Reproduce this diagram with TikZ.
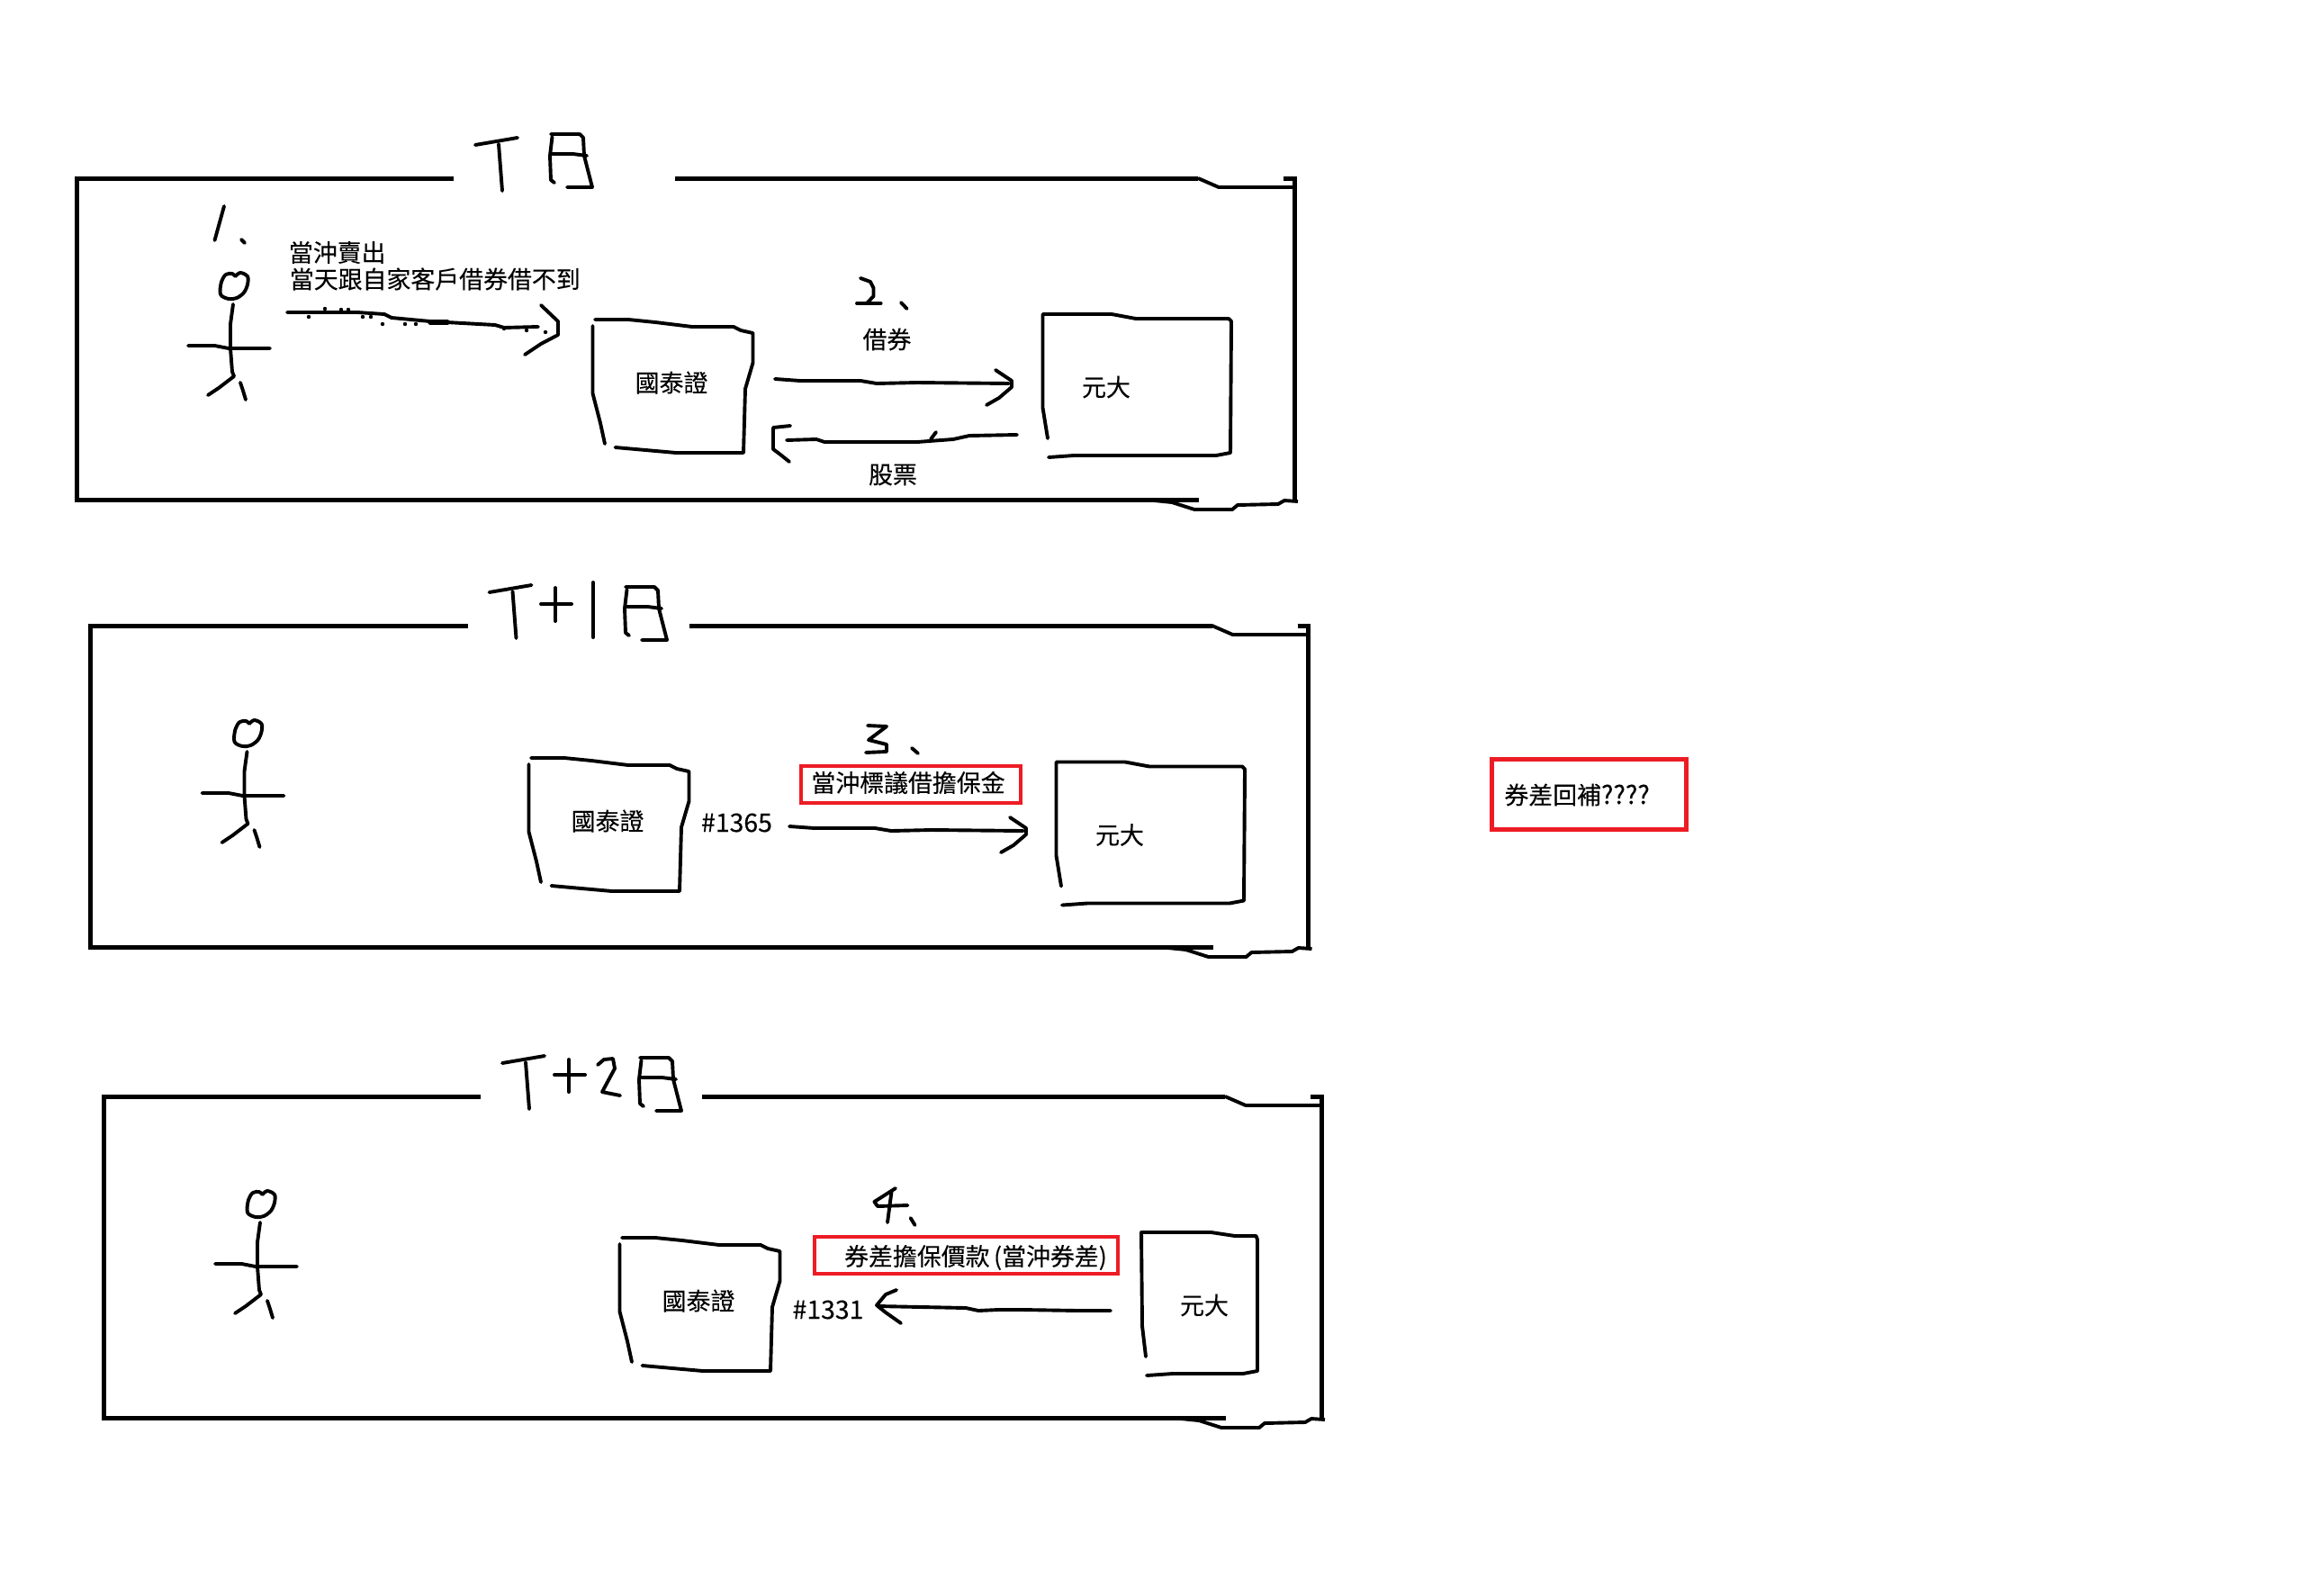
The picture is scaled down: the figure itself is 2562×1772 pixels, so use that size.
\documentclass[tikz,border=0pt]{standalone}
\usepackage{fontspec}
\setmainfont[FakeBold=0.12]{Noto Sans CJK TC}
\tikzset{
  sketch/.style={draw=black,line width=1.95pt,line cap=round,line join=round},
  framepen/.style={draw=black,line width=2.5pt,line cap=butt,line join=miter},
  thinframe/.style={draw=black,line width=1.95pt,line cap=butt,line join=round},
  label/.style={font=\fontsize{13.45pt}{16pt}\selectfont,text=black,inner sep=0pt},
  numlabel/.style={font=\fontsize{14.2pt}{16pt}\selectfont,text=black,inner sep=0pt},
  speck/.style={fill=black,draw=none}
}
\definecolor{redmark}{HTML}{ED1C24}
\newcommand{\panelframe}{%
  \draw[framepen] (504,198) -- (85,198) -- (85,555) -- (1332,555);
  \draw[framepen] (750,198) -- (1331,198);
  \draw[thinframe] (1331,198) -- (1354,208) -- (1436,208);
  \draw[framepen] (1426,198) -- (1438,198) -- (1438,557);
  \draw[thinframe] (1282,556) -- (1302,558) -- (1327,566) -- (1369,566) -- (1375,561) -- (1420,560) -- (1427,556) -- (1442,557);
}
\newcommand{\stickman}{%
  \draw[sketch] plot[smooth,tension=.55] coordinates {(261.5,307) (258,304) (251,305) (246,313) (245,327) (254,332) (263,331) (271,325) (275,316) (275,307) (267,303) (261.5,307)};
  \draw[sketch] (259,338) -- (256,360) -- (256,387) -- (258,413) -- (260,418) -- (243,431) -- (231,439);
  \draw[sketch] (267,425) -- (270,434) -- (273,444);
  \draw[sketch] (209,384) -- (238.5,384) -- (254,387) -- (300,387);
}
\newcommand{\teeglyph}{%
  \draw[sketch] (528,161) -- (575,153);
  \draw[sketch] (554,160) -- (558,212);
}
\newcommand{\riglyph}{%
  \draw[sketch] (612,149) -- (644,149) -- (648,153) -- (649,173) -- (658,208) -- (630,208);
  \draw[sketch] (613.5,152) -- (611,173) -- (612,200) -- (616,203);
  \draw[sketch] (613.5,171) -- (636.5,171) -- (652,173);
}
\newcommand{\cathaybox}[1]{%
  \draw[sketch] (661,355) -- (698,355) -- (728,358) -- (769,363) -- (815,363) -- (823,367) -- (836.5,370) -- (836.5,403) -- (828,432) -- (826,503) -- (751,503) -- (683.5,497);
  \draw[sketch] (658.5,362) -- (658.5,437) -- (667,470) -- (672,493);
  \node[label] (#1) at (746,425) {國泰證};
}
\newcommand{\yuantabox}[1]{%
  \draw[sketch] (1164,487) -- (1158.5,453) -- (1158.5,349) -- (1235,349) -- (1262,354) -- (1365,354) -- (1368,357) -- (1367,503) -- (1351,506) -- (1193,506) -- (1165,508);
  \node[label] (#1) at (1229,430) {元大};
}
\newcommand{\longarrow}{%
  \coordinate (ls) at (861,421);
  \coordinate (le) at (1121,426);
  \draw[sketch] (ls) -- (889,423) -- (956,423) -- (974,426) -- (1019,425) -- (le);
  \draw[sketch] (1106,411) -- (1124,423) -- (1124,430) -- (1110,442) -- (1096,450);
}
\begin{document}
\begin{tikzpicture}[x=0.5pt,y=-0.5pt]
\useasboundingbox (0,0) rectangle (2562,1772);
\fill[white] (0,0) rectangle (2562,1772);

% ---- T day ----
\panelframe
\stickman
\teeglyph
\riglyph
\cathaybox{cathayA}
\yuantabox{yuantaA}
\draw[sketch] (249,229) -- (238.5,267);
\draw[sketch] (268,266) -- (272,270);
\node[label,anchor=west] (sellA) at (320.5,280.5) {當沖賣出};
\node[label,anchor=west] (sellB) at (321.5,310) {當天跟自家客戶借券借不到};
\coordinate (sellS) at (319,347);
\coordinate (sellE) at (598,363);
\draw[sketch] (sellS) -- (397,347) -- (427,349) -- (435,353) -- (478,357) -- (550,361) -- (560,364) -- (sellE);
\draw[sketch,line width=2.8pt] (478,358) -- (497,358);
\draw[sketch] (601,339) -- (620,357) -- (620,372) -- (601,382) -- (583,394);
\foreach \p in {(343,352),(361,343),(379,344),(387,344),(403,352),(412,352),(425,360),(450,360),(462,360),(560,365),(585,367),(606,369)}
  \fill[speck] \p circle (2.2);
\longarrow
\draw[sketch] (952,337) -- (978.6,337);
\draw[sketch] (956,309) -- (967,313) -- (970.5,320) -- (970.5,329) -- (963,337);
\draw[sketch] (1001,336) -- (1007.6,343);
\node[label] (lendA) at (985.5,377) {借券};
\coordinate (backS) at (1130,483);
\coordinate (backE) at (874,489);
\draw[sketch] (backS) -- (1077,484) -- (1059,488) -- (1019,491) -- (916,491) -- (907,488) -- (backE);
\draw[sketch] (878,473) -- (859,475) -- (859,499) -- (867,505) -- (877,513);
\draw[sketch] (1040,480) -- (1034,488);
\node[label] (stockA) at (992,527.5) {股票};

% ---- T+1 day ----
\begin{scope}[shift={(15.5,497)}]
  \panelframe
  \stickman
  \teeglyph
\end{scope}
\begin{scope}[shift={(83,503)}]
  \riglyph
\end{scope}
\draw[sketch] (601,671) -- (635,671);
\draw[sketch] (617,653) -- (617,690);
\draw[sketch] (659,647) -- (659,708);
\begin{scope}[shift={(-71,487)}]
  \cathaybox{cathayB}
\end{scope}
\begin{scope}[shift={(15,497.5)}]
  \yuantabox{yuantaB}
\end{scope}
\begin{scope}[shift={(16,497)}]
  \longarrow
\end{scope}
\node[numlabel] (numB) at (818.5,914) {\#1365};
\draw[sketch] (964,806) -- (985,807) -- (965,822) -- (985,827) -- (985,835) -- (962,836);
\draw[sketch] (1013,831) -- (1020,837);
\node[label,draw=redmark,line width=2.1pt,minimum width=122pt,minimum height=20.5pt] (marginB) at (1012,871.5) {};
\node[label] (marginT) at (1009,869.5) {當沖標議借擔保金};

% ---- T+2 day ----
\begin{scope}[shift={(30,1020)}]
  \panelframe
  \stickman
  \teeglyph
\end{scope}
\begin{scope}[shift={(99,1026)}]
  \riglyph
\end{scope}
\draw[sketch] (616,1194) -- (650,1194);
\draw[sketch] (632,1177) -- (632,1213);
\draw[sketch] (664,1183) -- (671,1177) -- (681,1176) -- (683,1187) -- (669,1213) -- (689,1217);
\begin{scope}[shift={(30,1020)}]
  \cathaybox{cathayC}
\end{scope}
\draw[sketch] (1273,1507) -- (1269,1473) -- (1268,1369) -- (1345.5,1369) -- (1372,1373) -- (1395.5,1373) -- (1397,1377) -- (1397,1523) -- (1381,1526) -- (1303,1526) -- (1274,1528);
\node[label] (yuantaC) at (1338,1450) {元大};
\node[numlabel] (numC) at (920,1455) {\#1331};
\draw[sketch] (990.6,1323) -- (986,1358);
\draw[sketch] (995,1320) -- (971.4,1335) -- (975,1340) -- (1008.5,1339);
\draw[sketch] (1011.6,1353) -- (1016.5,1361);
\node[label,draw=redmark,line width=2.1pt,minimum width=168.5pt,minimum height=20.5pt] (payC) at (1073.5,1394.5) {};
\node[label] (payT) at (1084,1397) {券差擔保價款\,(當沖券差)};
\coordinate (payS) at (1234,1456);
\coordinate (payE) at (975,1451);
\draw[sketch] (payS) -- (1198,1456) -- (1136,1455) -- (1109,1455) -- (1087,1456) -- (1073,1453) -- (payE);
\draw[sketch] (996,1433) -- (984,1438) -- (974,1450) -- (984,1458) -- (1001,1470);

% ---- side note ----
\node[label,draw=redmark,line width=2.5pt,minimum width=108pt,minimum height=39pt] (noteB) at (1765.5,882.5) {};
\node[numlabel,anchor=west] (noteT) at (1671,883) {\fontsize{13.45pt}{16pt}\selectfont 券差回補\fontsize{14.2pt}{16pt}\selectfont ????};
\end{tikzpicture}
\end{document}
